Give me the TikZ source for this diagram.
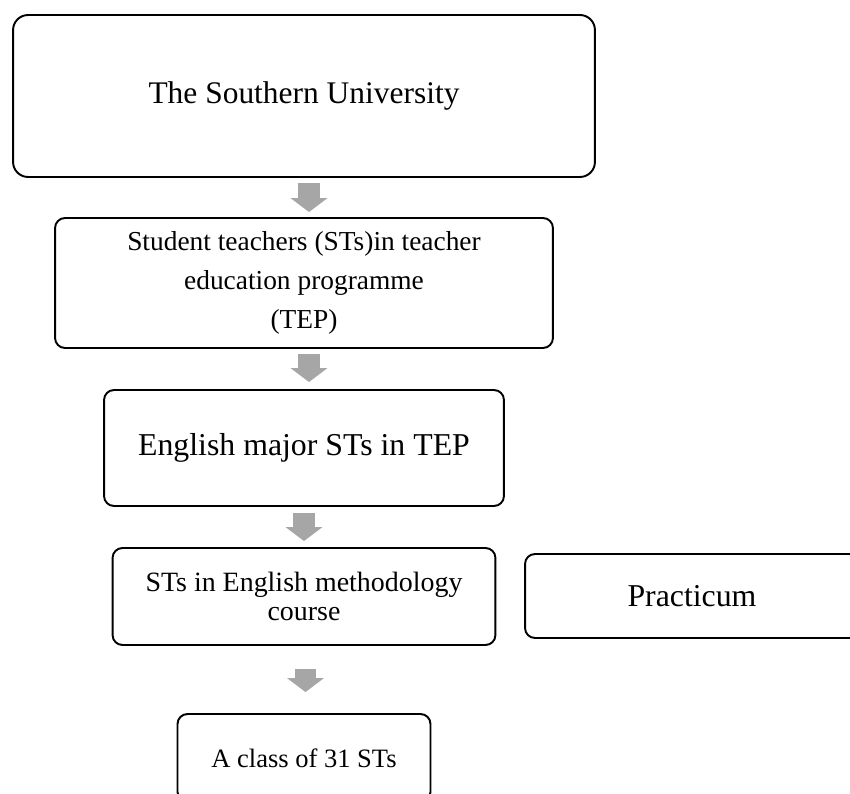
\documentclass[tikz,border=0pt]{standalone}
\usepackage{fontspec}
\setmainfont{Liberation Serif}
\usetikzlibrary{arrows.meta}

\definecolor{arrowgray}{RGB}{166,166,166}

\tikzset{
  box/.style={draw, line width=1.1pt, rounded corners=0.2cm, align=center},
  blk/.style={draw=arrowgray, line width=0.44cm,
    -{Triangle[width=0.74cm, length=0.28cm, line width=0pt]}},
}

\begin{document}
\begin{tikzpicture}[x=0.02cm, y=-0.02cm]

    \useasboundingbox (0, 0) rectangle (850, 794);
    \clip (0, 0) rectangle (850, 794);

    \node[box, rounded corners=0.3cm, minimum width=11.64cm, minimum height=3.24cm,
      font=\fontsize{17.9}{21}\selectfont] (u) at (304, 96) {The Southern University};
    \node[box, minimum width=9.96cm, minimum height=2.6cm,
      font=\fontsize{15.6}{22}\selectfont] (s) at (304, 283)
      {Student teachers (STs)in teacher\\ education programme\\ (TEP)};
    \node[box, minimum width=8cm, minimum height=2.32cm,
      font=\fontsize{18.1}{21}\selectfont] (e) at (304, 448) {English major STs in TEP};
    \node[box, minimum width=7.66cm, minimum height=1.94cm,
      font=\fontsize{15.9}{17}\selectfont] (m) at (304, 596.5)
      {STs in English methodology\\ course};
    \node[box, minimum width=6.68cm, minimum height=1.68cm,
      font=\fontsize{18.1}{21}\selectfont] (p) at (692, 596) {Practicum};
    \node[box, minimum width=5.06cm, minimum height=1.76cm,
      font=\fontsize{15.1}{18}\selectfont] (c) at (304, 758) {A class of 31 STs};

    \draw [blk, shorten <=0.1cm, shorten >=0.1cm] ([xshift=0.1cm]u.south) to ([xshift=0.1cm]s.north);
    \draw [blk, shorten <=0.1cm, shorten >=0.14cm] ([xshift=0.1cm]s.south) to ([xshift=0.1cm]e.north);
    \draw [blk, shorten <=0.12cm, shorten >=0.12cm] (e.south) to (m.north);
    \draw [blk, shorten <=0.46cm, shorten >=0.42cm] ([xshift=0.03cm]m.south) to ([xshift=0.03cm]c.north);

\end{tikzpicture}
\end{document}
